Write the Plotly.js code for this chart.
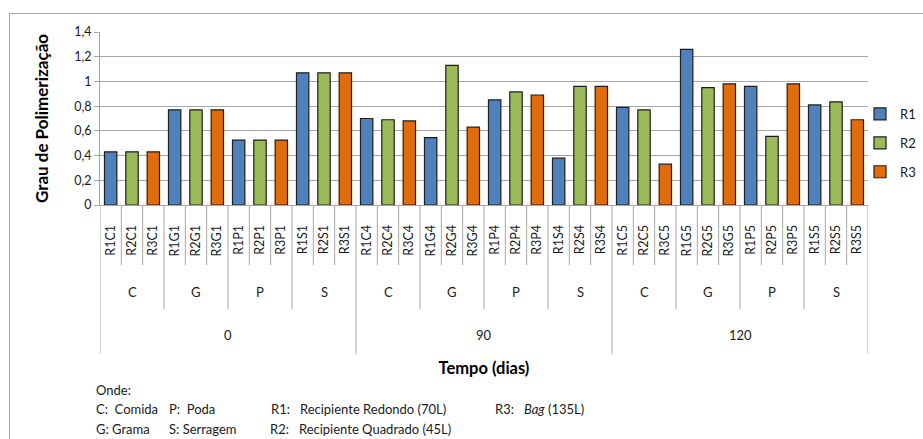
<!DOCTYPE html>
<html>
<head>
<meta charset="utf-8">
<script src="https://cdn.plot.ly/plotly-3.0.1.min.js"></script>
<style>
  html, body { margin: 0; padding: 0; background: #fff; overflow: hidden; }
  #frame { position: absolute; left: 9px; top: 13px; width: 1200px; height: 800px; border: 1px solid #a6a6a6; }
  #chart { position: absolute; left: 0; top: 0; width: 980px; height: 439px; }
</style>
</head>
<body>
<div id="frame"></div>
<div id="chart"></div>
<script>
// ---- data ----
const times = ['0', '90', '120'];
const treatments = ['C', 'G', 'P', 'S'];
const recipients = ['R1', 'R2', 'R3'];
const tickLabels = [
  'R1C1','R2C1','R3C1','R1G1','R2G1','R3G1','R1P1','R2P1','R3P1','R1S1','R2S1','R3S1',
  'R1C4','R2C4','R3C4','R1G4','R2G4','R3G4','R1P4','R2P4','R3P4','R1S4','R2S4','R3S4',
  'R1C5','R2C5','R3C5','R1G5','R2G5','R3G5','R1P5','R2P5','R3P5','R1S5','R2S5','R3S5'
];
// values in order: time 0 (C,G,P,S), time 90 (C,G,P,S), time 120 (C,G,P,S)
const valuesR1 = [0.43, 0.77, 0.525, 1.07, 0.70, 0.545, 0.85, 0.38, 0.79, 1.26, 0.96, 0.81];
const valuesR2 = [0.43, 0.77, 0.525, 1.07, 0.69, 1.13, 0.915, 0.96, 0.77, 0.95, 0.555, 0.835];
const valuesR3 = [0.43, 0.77, 0.525, 1.07, 0.68, 0.63, 0.89, 0.96, 0.33, 0.98, 0.98, 0.69];
const colors = { R1: '#4F81BD', R2: '#9BBB59', R3: '#E36C09' };

// ---- geometry helpers (layout only) ----
const W = 980, H = 439;
const M = { l: 100, r: 112, t: 32, b: 234 };
const pw = W - M.l - M.r, ph = H - M.t - M.b;
const px2x = p => (p - M.l) / pw;
const px2y = p => (H - M.b - p) / ph;

const seriesValues = { R1: valuesR1, R2: valuesR2, R3: valuesR3 };
const traces = recipients.map(r => ({
  type: 'bar',
  name: r,
  x: tickLabels.filter(t => t.startsWith(r)),
  y: seriesValues[r],
  width: 0.58,
  legendgroup: r,
  marker: { color: colors[r], line: { color: '#1e1e1e', width: 1.2 } },
  hoverinfo: 'x+y'
}));

const lineColor = '#a6a6a6';
const shapes = [];
const n = tickLabels.length;
const groupSize = recipients.length;
const timeSize = groupSize * treatments.length;
for (let i = 0; i <= n; i++) {
  let yEnd = px2y(265);
  if (i % groupSize === 0) yEnd = px2y(309);
  if (i % timeSize === 0) yEnd = px2y(354);
  shapes.push({ type: 'line', xref: 'x', yref: 'paper', x0: i - 0.5, x1: i - 0.5, y0: 0, y1: yEnd,
    line: { color: lineColor, width: 1 } });
}

const FAM = 'Lato, "Noto Sans", sans-serif';
const annotations = [];
const txtFont = { family: FAM, size: 13, color: '#1a1a1a' };
times.forEach((t, ti) => {
  treatments.forEach((tr, gi) => {
    annotations.push({ xref: 'x', yref: 'paper', x: ti * timeSize + gi * groupSize + 1, y: px2y(292),
      text: tr, showarrow: false, xanchor: 'center', yanchor: 'middle', font: txtFont });
  });
  annotations.push({ xref: 'x', yref: 'paper', x: ti * timeSize + (timeSize - 1) / 2, y: px2y(335),
    text: t, showarrow: false, xanchor: 'center', yanchor: 'middle', font: txtFont });
});

const notes = [
  { x: 94, y: 390, text: 'Onde:' },
  { x: 94, y: 409, text: 'C:  Comida' },
  { x: 167, y: 409, text: 'P:  Poda' },
  { x: 269, y: 409, text: 'R1:&nbsp;&nbsp; Recipiente Redondo (70L)' },
  { x: 493, y: 409, text: 'R3:&nbsp;&nbsp; <i>Bag</i> (135L)' },
  { x: 94, y: 429, text: 'G: Grama' },
  { x: 167, y: 429, text: 'S: Serragem' },
  { x: 268, y: 429, text: 'R2:&nbsp;&nbsp; Recipiente Quadrado (45L)' }
];
notes.forEach(nt => annotations.push({
  xref: 'paper', yref: 'paper', x: px2x(nt.x), y: px2y(nt.y), text: nt.text,
  showarrow: false, xanchor: 'left', yanchor: 'middle', font: txtFont
}));

const layout = {
  width: W, height: H,
  margin: M,
  paper_bgcolor: 'rgba(0,0,0,0)',
  plot_bgcolor: 'rgba(0,0,0,0)',
  separators: ', ',
  barmode: 'overlay',
  font: { family: FAM, size: 12, color: '#1a1a1a' },
  showlegend: true,
  legend: {
    x: px2x(860), xanchor: 'left', y: px2y(143), yanchor: 'middle',
    traceorder: 'grouped', tracegroupgap: 9,
    font: { family: FAM, size: 13, color: '#1a1a1a' },
    bgcolor: 'rgba(0,0,0,0)', borderwidth: 0
  },
  xaxis: {
    type: 'category',
    categoryorder: 'array', categoryarray: tickLabels,
    range: [-0.5, n - 0.5],
    tickangle: -90,
    ticks: '',
    ticklabelstandoff: 14,
    tickfont: { family: FAM, size: 12.5, color: '#1a1a1a' },
    showline: true, linecolor: lineColor, linewidth: 1,
    showgrid: false, zeroline: false,
    fixedrange: true,
    title: { text: '<b>Tempo (dias)</b>', standoff: 106,
      font: { family: FAM, size: 16.5, color: '#000' } }
  },
  yaxis: {
    range: [0, 1.4],
    dtick: 0.2, tick0: 0,
    ticks: 'outside', ticklen: 5, tickcolor: lineColor,
    tickfont: { family: FAM, size: 12.5, color: '#1a1a1a' },
    showline: true, linecolor: lineColor, linewidth: 1,
    showgrid: true, gridcolor: lineColor, gridwidth: 1,
    zeroline: false,
    fixedrange: true,
    title: { text: '<b>Grau de Polimerização</b>', standoff: 21,
      font: { family: FAM, size: 17, color: '#000' } }
  },
  shapes: shapes,
  annotations: annotations
};

Plotly.newPlot('chart', traces, layout, { displayModeBar: false, staticPlot: true });
</script>
</body>
</html>
